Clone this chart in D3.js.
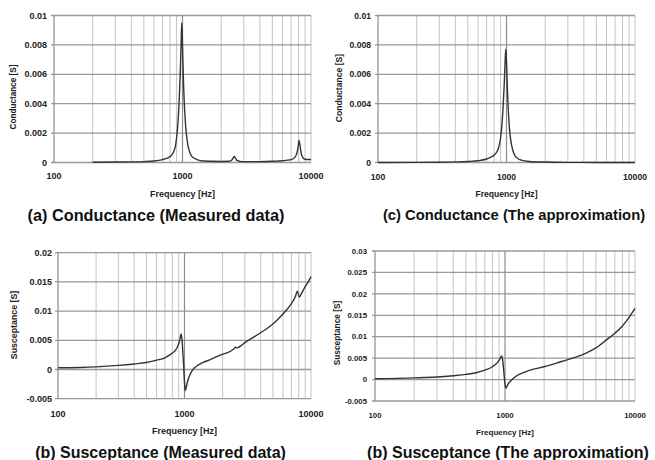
<!DOCTYPE html>
<html><head><meta charset="utf-8">
<script src="https://cdn.jsdelivr.net/npm/d3@7/dist/d3.min.js"></script>
<style>
html,body{margin:0;padding:0;background:#fff;}
svg{display:block;font-family:"Liberation Sans",Arial,sans-serif;}
</style></head>
<body>
<svg id="chart" width="655" height="460"></svg>
<script>
// ---------- data ----------
const xTickLabels = [100, 1000, 10000];
const xMinorTicks = [200,300,400,500,600,700,800,900,2000,3000,4000,5000,6000,7000,8000,9000];

const yTicksCond = [0, 0.002, 0.004, 0.006, 0.008, 0.01];
const yTicksSuscMeas = [-0.005, 0, 0.005, 0.01, 0.015, 0.02];
const yTicksSuscApprox = [-0.005, 0, 0.005, 0.01, 0.015, 0.02, 0.025, 0.03];

// (a) Conductance, measured
const freqCondMeas = [200,300,400,500,600,700,750,800,850,880,900,920,940,960,975,986,995,1005,1020,1040,1060,1080,1100,1150,1200,1300,1400,1500,1700,2000,2300,2400,2480,2530,2580,2650,2800,3000,4000,5000,5500,6000,7000,7500,7800,7950,8070,8200,8400,8700,9000,9500,10000];
const condMeas = [0.00002,0.00003,0.00004,0.00006,0.0001,0.0002,0.00028,0.0004,0.0007,0.0011,0.0017,0.0026,0.004,0.006,0.008,0.0095,0.0088,0.0072,0.0052,0.0035,0.0024,0.0017,0.0012,0.0006,0.00035,0.0002,0.00012,0.0001,0.00008,0.00007,0.00008,0.00014,0.00032,0.00042,0.0003,0.00014,0.00008,0.00006,0.00006,0.00008,0.0001,0.00012,0.0002,0.00035,0.0007,0.0011,0.0015,0.0012,0.0006,0.0003,0.00022,0.0002,0.0002];

// (c) Conductance, approximation
const freqCondApprox = [100,200,300,400,500,600,700,750,800,850,880,900,920,940,960,975,986,995,1005,1020,1040,1060,1080,1100,1150,1200,1300,1500,2000,3000,5000,10000];
const condApprox = [0.000002,0.00001,0.00002,0.00004,0.00007,0.00012,0.00024,0.00035,0.0005,0.0008,0.0012,0.0017,0.0025,0.0037,0.0053,0.0068,0.0077,0.0073,0.0063,0.0046,0.0031,0.0021,0.0015,0.0011,0.00055,0.00033,0.00016,0.00007,0.00003,0.00001,0.000005,0.000002];

// (b) Susceptance, measured
const freqSuscMeas = [100,150,200,300,400,500,600,700,800,850,880,910,930,941,955,970,985,1000,1012,1025,1040,1056,1080,1110,1150,1250,1400,1600,1800,2000,2300,2450,2530,2600,2800,3000,3500,4000,5000,6000,7000,7500,7800,8080,8400,9000,9500,10000];
const suscMeas = [0.0003,0.00035,0.00045,0.0007,0.00095,0.0012,0.0016,0.002,0.0028,0.0033,0.0039,0.0048,0.0057,0.0061,0.0052,0.003,0.0005,-0.0022,-0.0036,-0.0033,-0.0027,-0.0021,-0.0014,-0.0008,-0.0002,0.0006,0.0012,0.0017,0.0022,0.0026,0.0031,0.0035,0.0038,0.0037,0.0041,0.0046,0.0055,0.0063,0.0078,0.0095,0.0113,0.0124,0.0134,0.0124,0.013,0.0142,0.015,0.0159];

// (d) Susceptance, approximation
const freqSuscApprox = [100,200,300,400,500,600,700,800,870,910,944,960,975,990,1003,1015,1030,1050,1070,1092,1150,1230,1400,1560,2000,2650,3000,4000,5000,6000,7000,8000,9000,10000];
const suscApprox = [0.0002,0.0004,0.0006,0.0009,0.0012,0.0016,0.0022,0.003,0.0039,0.0047,0.0055,0.0045,0.0025,0.0002,-0.0014,-0.002,-0.0017,-0.0012,-0.0008,-0.0005,0.0002,0.0009,0.0017,0.0022,0.003,0.0041,0.0046,0.0059,0.0074,0.0092,0.0108,0.0125,0.0145,0.0166];

// ---------- layout ----------
const fmt = d => d === 0 ? "0" : String(+d.toFixed(3));
const panels = [
  {freq: freqCondMeas, vals: condMeas, yTicks: yTicksCond,
   l:54, r:311, t:15.5, b:162.5, tick:9, ytitle:"Conductance [S]", ytx:13.5, yty:97, ytsize:8.2,
   xly:175.5, xty:193.5, xtsize:9, cap:"(a) Conductance (Measured data)", capx:156, capy:215.5, capsize:16.3, ylOff:7},
  {freq: freqCondApprox, vals: condApprox, yTicks: yTicksCond,
   l:378, r:635, t:15.5, b:162.5, tick:8.6, ytitle:"Conductance [S]", ytx:338.5, yty:88, ytsize:8.6,
   xly:176.5, xty:194, xtsize:8.6, cap:"(c) Conductance (The approximation)", capx:514, capy:215, capsize:14.8, ylOff:7},
  {freq: freqSuscMeas, vals: suscMeas, yTicks: yTicksSuscMeas,
   l:58, r:311, t:252.7, b:398.7, tick:9, ytitle:"Susceptance [S]", ytx:13.5, yty:325, ytsize:8.8,
   xly:414, xty:431, xtsize:9, cap:"(b) Susceptance (Measured data)", capx:160.5, capy:452, capsize:16, ylOff:6},
  {freq: freqSuscApprox, vals: suscApprox, yTicks: yTicksSuscApprox,
   l:375, r:635, t:251, b:401, tick:7.8, ytitle:"Susceptance [S]", ytx:337, yty:333, ytsize:8.3,
   xly:415.5, xty:432, xtsize:8, cap:"(b) Susceptance (The approximation)", capx:508, capy:452, capsize:16, ylOff:8}
];

const svg = d3.select("#chart");

panels.forEach(p => {
  const x = d3.scaleLog().domain([100, 10000]).range([p.l, p.r]);
  const y = d3.scaleLinear().domain([p.yTicks[0], p.yTicks[p.yTicks.length-1]]).range([p.b, p.t]);
  const g = svg.append("g");

  // minor vertical gridlines (light dotted)
  g.selectAll(".minor").data(xMinorTicks).enter().append("line")
    .attr("x1", d => x(d)).attr("x2", d => x(d))
    .attr("y1", p.t).attr("y2", p.b)
    .attr("stroke", "#c4c4c4").attr("stroke-width", 1);
  // right border (light)
  g.append("line").attr("x1", x(10000)).attr("x2", x(10000)).attr("y1", p.t).attr("y2", p.b)
    .attr("stroke", "#c4c4c4").attr("stroke-width", 1);
  // horizontal gridlines
  g.selectAll(".hg").data(p.yTicks).enter().append("line")
    .attr("x1", p.l - 3).attr("x2", p.r)
    .attr("y1", d => y(d)).attr("y2", d => y(d))
    .attr("stroke", "#999").attr("stroke-width", 1.3);
  // major vertical 1000
  g.append("line").attr("x1", x(1000)).attr("x2", x(1000)).attr("y1", p.t).attr("y2", p.b)
    .attr("stroke", "#8c8c8c").attr("stroke-width", 1.2);
  // left axis
  g.append("line").attr("x1", p.l).attr("x2", p.l).attr("y1", p.t).attr("y2", p.b)
    .attr("stroke", "#8c8c8c").attr("stroke-width", 1.2);

  // data line
  const line = d3.line().x(d => x(d[0])).y(d => y(d[1])).curve(d3.curveMonotoneX);
  g.append("path").datum(d3.zip(p.freq, p.vals))
    .attr("d", line).attr("fill", "none").attr("stroke", "#333").attr("stroke-width", 1.4)
    .attr("stroke-linejoin", "round");

  // y tick labels
  g.selectAll(".yl").data(p.yTicks).enter().append("text")
    .attr("x", p.l - p.ylOff).attr("y", d => y(d)).attr("dy", "0.35em")
    .attr("text-anchor", "end").attr("font-size", p.tick).attr("font-weight", "bold").attr("fill", "#222")
    .text(fmt);
  // x tick labels
  g.selectAll(".xl").data(xTickLabels).enter().append("text")
    .attr("x", d => x(d)).attr("y", p.xly).attr("dy", "0.35em")
    .attr("text-anchor", "middle").attr("font-size", p.tick).attr("font-weight", "bold").attr("fill", "#222")
    .text(d => d);
  // x title
  g.append("text").attr("x", (p.l + p.r) / 2).attr("y", p.xty).attr("dy", "0.35em")
    .attr("text-anchor", "middle").attr("font-size", p.xtsize).attr("font-weight", "bold").attr("fill", "#222")
    .text("Frequency [Hz]");
  // y title
  g.append("text").attr("transform", `translate(${p.ytx},${p.yty}) rotate(-90)`).attr("dy", "0.35em")
    .attr("text-anchor", "middle").attr("font-size", p.ytsize).attr("font-weight", "bold").attr("fill", "#222")
    .text(p.ytitle);
  // caption
  g.append("text").attr("x", p.capx).attr("y", p.capy).attr("dy", "0.35em")
    .attr("text-anchor", "middle").attr("font-size", p.capsize).attr("font-weight", "bold").attr("fill", "#111")
    .text(p.cap);
});
</script>
</body></html>
